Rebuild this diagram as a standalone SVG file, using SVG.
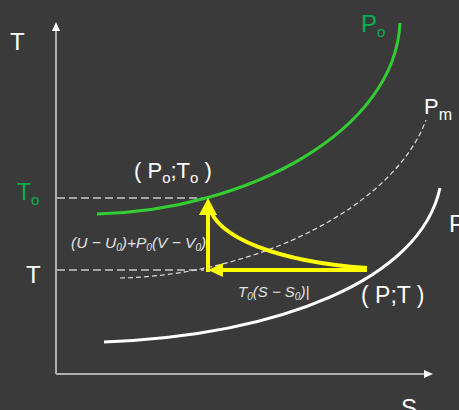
<svg xmlns="http://www.w3.org/2000/svg" width="459" height="410" viewBox="0 0 459 410">
<style>
text{font-family:"Liberation Sans",Arial,sans-serif;}
.w{fill:#ffffff;}
.g{fill:#00b050;}
.f{fill:#e0e0e0;font-style:italic;}
.ax{stroke:#b0b0b0;stroke-width:2;fill:none;}
.dash{stroke:#c8c8c8;stroke-width:1.5;stroke-dasharray:8 4;fill:none;}
.y{stroke:#ffff00;stroke-width:4;fill:none;}
</style>
<rect x="0" y="0" width="459" height="410" fill="#3a3a3a"/>
<g id="axes">
<line class="ax" x1="56" y1="28" x2="56" y2="374"/>
<polygon points="56,22 52,31 60,31" fill="#ffffff"/>
<line class="ax" x1="56" y1="374" x2="426" y2="374" stroke="#d0d0d0"/>
<polygon points="433,374 424,370 424,378" fill="#ffffff"/>
<text class="w" x="10" y="50" font-size="24">T</text>
<text class="w" x="401" y="416" font-size="24">S</text>
</g>
<g id="guides">
<line class="dash" x1="57" y1="198" x2="206" y2="198"/>
<line class="dash" x1="57" y1="270" x2="204" y2="270"/>
<text class="g" x="17" y="200" font-size="23">T<tspan font-size="15" dy="5">o</tspan></text>
<text class="w" x="26" y="283" font-size="24">T</text>
</g>
<g id="curve-Po">
<path d="M97,214 C250,210 395,130 400,23" stroke="#33cc33" stroke-width="3" fill="none"/>
<text class="g" x="361" y="32" font-size="24">P<tspan font-size="15" dy="5">o</tspan></text>
</g>
<g id="curve-Pm">
<path d="M120,278 C260,275 395,205 426,120" stroke="#dddddd" stroke-width="1.2" stroke-dasharray="5 3" fill="none"/>
<text class="w" x="424" y="114" font-size="22">P<tspan font-size="16" dy="6">m</tspan></text>
</g>
<g id="curve-P">
<path d="M104,342 C280,335 420,280 440,188" stroke="#ffffff" stroke-width="3" fill="none"/>
<text class="w" x="449" y="232" font-size="24">P</text>
</g>
<g id="connectors">
<path class="y" d="M367,268 C280,262 215,238 209,205"/>
<line class="y" x1="208" y1="272" x2="208" y2="212"/>
<polygon points="208,198 199,215 217,215" fill="#ffff00"/>
<line class="y" x1="367" y1="270" x2="220" y2="270"/>
<polygon points="208,270 223,263 223,277" fill="#ffff00"/>
</g>
<g id="labels">
<text class="w" x="134" y="178" font-size="22">( P<tspan font-size="15" dy="5">o</tspan><tspan dy="-5">;T</tspan><tspan font-size="15" dy="5">o</tspan><tspan dy="-5"> )</tspan></text>
<text class="w" x="361" y="303" font-size="23">( P;T )</text>
<text class="f" x="71" y="248" font-size="15.5">(U − U<tspan font-size="10" dy="3">0</tspan><tspan dy="-3">)+P</tspan><tspan font-size="10" dy="3">0</tspan><tspan dy="-3">(V − V</tspan><tspan font-size="10" dy="3">0</tspan><tspan dy="-3">)</tspan></text>
<text class="f" x="238" y="297" font-size="15">T<tspan font-size="10" dy="3">0</tspan><tspan dy="-3">(S − S</tspan><tspan font-size="10" dy="3">0</tspan><tspan dy="-3">)|</tspan></text>
</g>
</svg>
